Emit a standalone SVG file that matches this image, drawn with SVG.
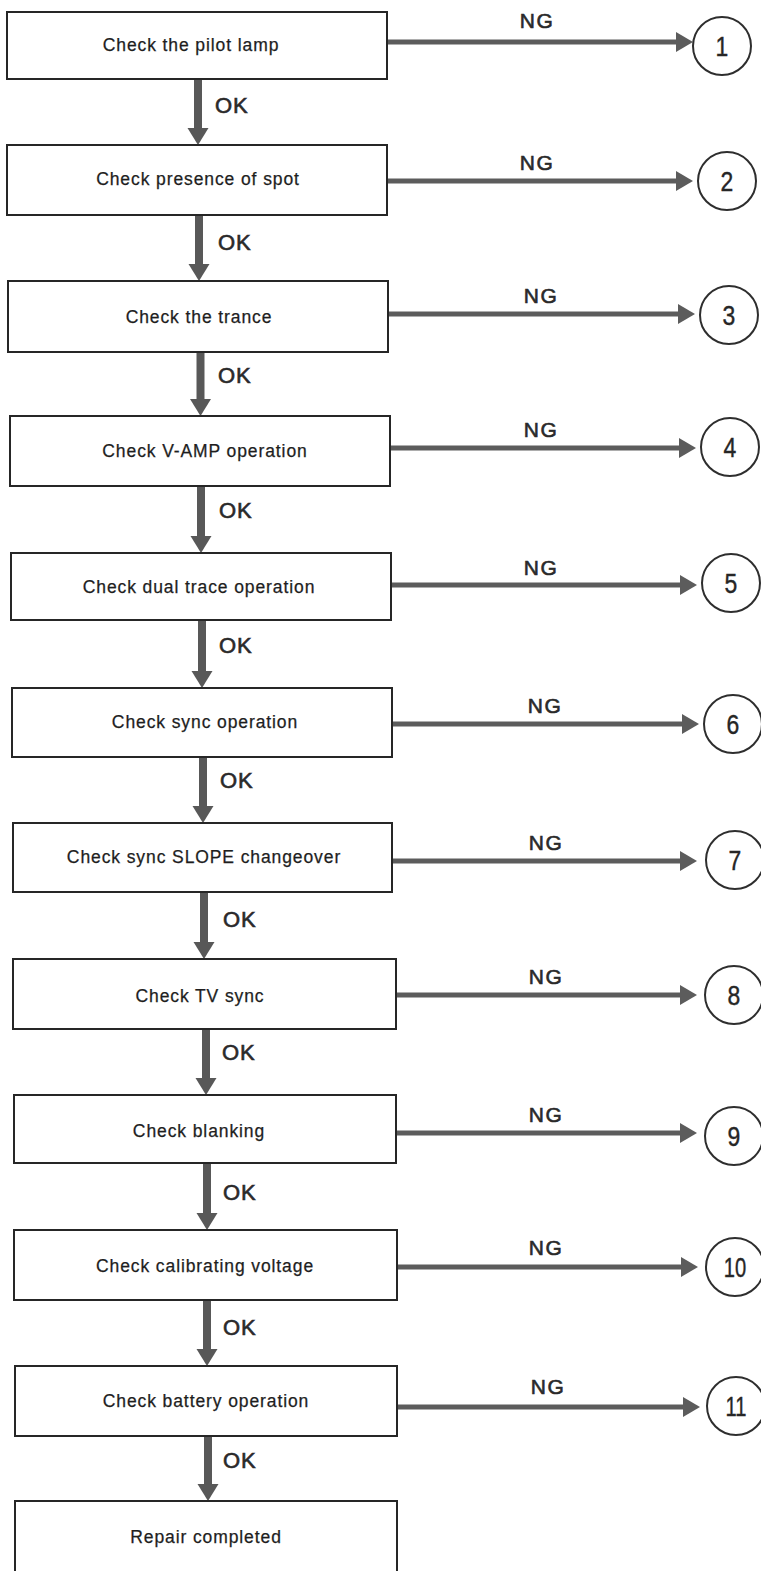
<svg xmlns="http://www.w3.org/2000/svg" width="761" height="1571" viewBox="0 0 761 1571">
  <defs>
    <style>
      .box { fill: #ffffff; stroke: #262626; stroke-width: 2; }
      .lbl { font-family: "Liberation Sans", Arial, sans-serif; font-size: 17.5px; letter-spacing: 0.9px; fill: #1e1e1e; stroke: #1e1e1e; stroke-width: 0.25; text-anchor: middle; }
      .ok { font-family: "Liberation Sans", Arial, sans-serif; font-size: 22px; letter-spacing: 1px; fill: #2a2a2a; stroke: #2a2a2a; stroke-width: 0.6; }
      .ng { font-family: "Liberation Sans", Arial, sans-serif; font-size: 21px; letter-spacing: 1.5px; fill: #2a2a2a; stroke: #2a2a2a; stroke-width: 0.6; text-anchor: middle; }
      .term { fill: #ffffff; stroke: #2e2e2e; stroke-width: 2; }
      .num { font-family: "Liberation Sans", Arial, sans-serif; font-size: 28px; fill: #262626; stroke: #262626; stroke-width: 0.4; text-anchor: middle; }
      .ngline { stroke: #5c5c5c; stroke-width: 5; fill: none; marker-end: url(#headR); }
      .okline { stroke: #585858; stroke-width: 8; fill: none; marker-end: url(#headD); }
    </style>
    <marker id="headR" markerUnits="userSpaceOnUse" markerWidth="19" markerHeight="21" refX="2" refY="10" orient="auto">
      <path d="M0,0 L17,10 L0,20 z" fill="#5c5c5c"/>
    </marker>
    <marker id="headD" markerUnits="userSpaceOnUse" markerWidth="20" markerHeight="22" refX="2" refY="10.5" orient="auto">
      <path d="M0,0 L17,10.5 L0,21 z" fill="#585858"/>
    </marker>
  </defs>

  <!-- connectors: OK (down) and NG (right) -->
  <g id="connectors">
    <line class="okline" x1="198" y1="79" x2="198" y2="130"/>
    <line class="okline" x1="199" y1="215" x2="199" y2="266"/>
    <line class="okline" x1="200.5" y1="352" x2="200.5" y2="401"/>
    <line class="okline" x1="201" y1="486" x2="201" y2="538"/>
    <line class="okline" x1="202" y1="620" x2="202" y2="673"/>
    <line class="okline" x1="203" y1="757" x2="203" y2="808"/>
    <line class="okline" x1="204" y1="892" x2="204" y2="944"/>
    <line class="okline" x1="206" y1="1029" x2="206" y2="1080"/>
    <line class="okline" x1="207" y1="1163" x2="207" y2="1215"/>
    <line class="okline" x1="207" y1="1300" x2="207" y2="1351"/>
    <line class="okline" x1="208" y1="1436" x2="208" y2="1486"/>

    <line class="ngline" x1="387" y1="42" x2="678" y2="42"/>
    <line class="ngline" x1="387" y1="181" x2="678" y2="181"/>
    <line class="ngline" x1="388" y1="314" x2="680" y2="314"/>
    <line class="ngline" x1="390" y1="448" x2="681" y2="448"/>
    <line class="ngline" x1="391" y1="585" x2="682" y2="585"/>
    <line class="ngline" x1="392" y1="724" x2="684" y2="724"/>
    <line class="ngline" x1="392" y1="861" x2="682" y2="861"/>
    <line class="ngline" x1="396" y1="995" x2="682" y2="995"/>
    <line class="ngline" x1="396" y1="1133" x2="682" y2="1133"/>
    <line class="ngline" x1="397" y1="1267" x2="683" y2="1267"/>
    <line class="ngline" x1="397" y1="1407" x2="685" y2="1407"/>

    <text class="ok" x="215" y="113">OK</text>
    <text class="ok" x="218" y="250">OK</text>
    <text class="ok" x="218" y="383">OK</text>
    <text class="ok" x="219" y="518">OK</text>
    <text class="ok" x="219" y="653">OK</text>
    <text class="ok" x="220" y="788">OK</text>
    <text class="ok" x="223" y="927">OK</text>
    <text class="ok" x="222" y="1060">OK</text>
    <text class="ok" x="223" y="1200">OK</text>
    <text class="ok" x="223" y="1335">OK</text>
    <text class="ok" x="223" y="1468">OK</text>

    <text class="ng" x="537" y="28">NG</text>
    <text class="ng" x="537" y="170">NG</text>
    <text class="ng" x="541" y="303">NG</text>
    <text class="ng" x="541" y="437">NG</text>
    <text class="ng" x="541" y="575">NG</text>
    <text class="ng" x="545" y="713">NG</text>
    <text class="ng" x="546" y="850">NG</text>
    <text class="ng" x="546" y="984">NG</text>
    <text class="ng" x="546" y="1122">NG</text>
    <text class="ng" x="546" y="1255">NG</text>
    <text class="ng" x="548" y="1394">NG</text>
  </g>

  <!-- check steps -->
  <g id="step1"><rect class="box" x="7" y="12" width="380" height="67"/><text class="lbl" x="191" y="51">Check the pilot lamp</text></g>
  <g id="step2"><rect class="box" x="7" y="145" width="380" height="70"/><text class="lbl" x="198" y="185">Check presence of spot</text></g>
  <g id="step3"><rect class="box" x="8" y="281" width="380" height="71"/><text class="lbl" x="199" y="323">Check the trance</text></g>
  <g id="step4"><rect class="box" x="10" y="416" width="380" height="70"/><text class="lbl" x="205" y="457">Check V-AMP operation</text></g>
  <g id="step5"><rect class="box" x="11" y="553" width="380" height="67"/><text class="lbl" x="199" y="593">Check dual trace operation</text></g>
  <g id="step6"><rect class="box" x="12" y="688" width="380" height="69"/><text class="lbl" x="205" y="728">Check sync operation</text></g>
  <g id="step7"><rect class="box" x="13" y="823" width="379" height="69"/><text class="lbl" x="204" y="863">Check sync SLOPE changeover</text></g>
  <g id="step8"><rect class="box" x="13" y="959" width="383" height="70"/><text class="lbl" x="200" y="1002">Check TV sync</text></g>
  <g id="step9"><rect class="box" x="14" y="1095" width="382" height="68"/><text class="lbl" x="199" y="1137">Check blanking</text></g>
  <g id="step10"><rect class="box" x="14" y="1230" width="383" height="70"/><text class="lbl" x="205" y="1272">Check calibrating voltage</text></g>
  <g id="step11"><rect class="box" x="15" y="1366" width="382" height="70"/><text class="lbl" x="206" y="1407">Check battery operation</text></g>
  <g id="done"><rect class="box" x="15" y="1501" width="382" height="80"/><text class="lbl" x="206" y="1543">Repair completed</text></g>

  <!-- numbered fault references -->
  <g id="ref1"><circle class="term" cx="722" cy="46" r="29"/><text class="num" transform="translate(722 56) scale(0.82 1)">1</text></g>
  <g id="ref2"><circle class="term" cx="727" cy="181" r="29"/><text class="num" transform="translate(727 191) scale(0.82 1)">2</text></g>
  <g id="ref3"><circle class="term" cx="729" cy="315" r="29"/><text class="num" transform="translate(729 325) scale(0.82 1)">3</text></g>
  <g id="ref4"><circle class="term" cx="730" cy="447" r="29"/><text class="num" transform="translate(730 457) scale(0.82 1)">4</text></g>
  <g id="ref5"><circle class="term" cx="731" cy="583" r="29"/><text class="num" transform="translate(731 593) scale(0.82 1)">5</text></g>
  <g id="ref6"><circle class="term" cx="733" cy="724" r="29"/><text class="num" transform="translate(733 734) scale(0.82 1)">6</text></g>
  <g id="ref7"><circle class="term" cx="735" cy="860" r="29"/><text class="num" transform="translate(735 870) scale(0.82 1)">7</text></g>
  <g id="ref8"><circle class="term" cx="734" cy="995" r="29"/><text class="num" transform="translate(734 1005) scale(0.82 1)">8</text></g>
  <g id="ref9"><circle class="term" cx="734" cy="1136" r="29"/><text class="num" transform="translate(734 1146) scale(0.82 1)">9</text></g>
  <g id="ref10"><circle class="term" cx="735" cy="1267" r="29"/><text class="num" transform="translate(735 1277) scale(0.72 1)">10</text></g>
  <g id="ref11"><circle class="term" cx="736" cy="1406" r="29"/><text class="num" transform="translate(736 1416) scale(0.72 1)">11</text></g>
</svg>
